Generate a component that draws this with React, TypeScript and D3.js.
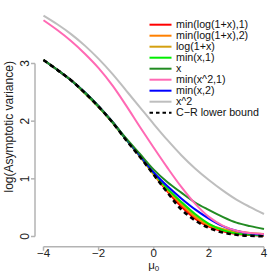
import React from "react";
import * as d3 from "d3";

// grid of mu0 values the curves are read at
const mu: number[] = [-4, -3.5, -3, -2.5, -2, -1.5, -1, -0.5, 0, 0.5, 1, 1.5, 2, 2.5, 3, 3.5, 4];

const minLog1: number[] = [3.06, 2.89, 2.71, 2.49, 2.25, 1.98, 1.68, 1.39, 1.08, 0.78, 0.52, 0.31, 0.17, 0.09, 0.045, 0.025, 0.015];
const minLog2: number[] = [3.06, 2.89, 2.71, 2.49, 2.25, 1.98, 1.68, 1.39, 1.08, 0.8, 0.56, 0.34, 0.19, 0.11, 0.07, 0.045, 0.035];
const log1x: number[] = [3.06, 2.89, 2.71, 2.49, 2.25, 1.98, 1.68, 1.39, 1.08, 0.81, 0.58, 0.36, 0.21, 0.13, 0.09, 0.06, 0.045];
const minX1: number[] = [3.06, 2.89, 2.71, 2.49, 2.25, 1.98, 1.68, 1.4, 1.1, 0.83, 0.6, 0.39, 0.22, 0.11, 0.05, 0.03, 0.02];
const xLin: number[] = [3.06, 2.89, 2.71, 2.5, 2.26, 1.99, 1.7, 1.43, 1.16, 0.94, 0.76, 0.59, 0.46, 0.34, 0.24, 0.18, 0.13];
const minX2sq1: number[] = [3.75, 3.58, 3.39, 3.17, 2.92, 2.62, 2.27, 1.9, 1.54, 1.19, 0.86, 0.57, 0.34, 0.19, 0.1, 0.06, 0.04];
const minX2: number[] = [3.06, 2.89, 2.71, 2.5, 2.26, 1.99, 1.69, 1.4, 1.11, 0.87, 0.66, 0.47, 0.31, 0.18, 0.1, 0.05, 0.03];
const xSq: number[] = [3.83, 3.68, 3.51, 3.31, 3.08, 2.82, 2.53, 2.24, 1.95, 1.67, 1.41, 1.18, 0.98, 0.8, 0.64, 0.51, 0.39];
const crBound: number[] = [3.06, 2.89, 2.71, 2.49, 2.25, 1.98, 1.67, 1.38, 1.07, 0.76, 0.47, 0.28, 0.15, 0.07, 0.03, 0.012, 0.005];

const labels: string[] = [
  "min(log(1+x),1)",
  "min(log(1+x),2)",
  "log(1+x)",
  "min(x,1)",
  "x",
  "min(x^2,1)",
  "min(x,2)",
  "x^2",
  "C\u2212R lower bound",
];
const xTicks: number[] = [-4, -2, 0, 2, 4];
const yTicks: number[] = [0, 1, 2, 3];

const series = [minLog1, minLog2, log1x, minX1, xLin, minX2sq1, minX2, xSq, crBound];
const colors = ["#ff0000", "#ff8000", "#d4a010", "#00ee00", "#228b22", "#ff69b4", "#0000ff", "#bebebe", "#000000"];
// blue goes under the dark green so the left bundle looks like the original
const drawOrder = [0, 1, 2, 3, 6, 4, 5, 7, 8];

const App = (): React.JSX.Element => {
  const width = 280;
  const height = 280;
  const x = d3.scaleLinear([-4, 4], [43.5, 264]);
  const y = d3.scaleLinear([0, 3], [236.5, 63.5]);
  const axisY = 246.7;
  const axisX = 35;
  const font = "'Liberation Sans', Arial, Helvetica, sans-serif";

  const line = (vals: number[]) =>
    d3
      .line<number>()
      .x((_d, i) => x(mu[i]))
      .y((d) => y(d))
      .curve(d3.curveCatmullRom.alpha(0.5))(vals) as string;

  return (
    <svg width={width} height={height} style={{ position: "absolute", left: 0, top: 0, background: "#fff" }}>
      {drawOrder.map((i) => (
        <path
          key={i}
          d={line(series[i])}
          fill="none"
          stroke={colors[i]}
          strokeWidth={i === 8 ? 2.6 : 2}
          strokeDasharray={i === 8 ? "4.5,3.5" : undefined}
        />
      ))}

      {/* x axis */}
      <g stroke="#b3b3b3" strokeWidth={1.5}>
        <line x1={x(-4)} x2={x(4)} y1={axisY} y2={axisY} />
        {xTicks.map((t) => (
          <line key={t} x1={x(t)} x2={x(t)} y1={axisY} y2={axisY + 4} />
        ))}
      </g>
      <g fontFamily={font} fill="#222" textAnchor="middle">
        {xTicks.map((t) => (
          <text key={t} x={x(t)} y={257} fontSize={11.5}>
            {t < 0 ? "\u2212" + Math.abs(t) : String(t)}
          </text>
        ))}
        <text x={x(0)} y={268.5} fontSize={11.5}>
          μ<tspan fontSize={8} dy={2}>0</tspan>
        </text>
      </g>

      {/* y axis */}
      <g stroke="#b3b3b3" strokeWidth={1.5}>
        <line x1={axisX} x2={axisX} y1={y(0)} y2={y(3)} />
        {yTicks.map((t) => (
          <line key={t} x1={axisX - 4} x2={axisX} y1={y(t)} y2={y(t)} />
        ))}
      </g>
      <g fontFamily={font} fontSize={12} fill="#222" textAnchor="middle">
        {yTicks.map((t) => (
          <text key={t} transform={`translate(${axisX - 6.5},${y(t)}) rotate(-90)`}>
            {t}
          </text>
        ))}
        <text transform={`translate(12.5,${(6.9 + axisY) / 2}) rotate(-90)`}>log(Asymptotic variance)</text>
      </g>

      {/* legend */}
      <g fontFamily={font} fontSize={10.7} fill="#111">
        {labels.map((l, i) => {
          const ly = 24.7 + i * 11;
          return (
            <g key={l}>
              <line
                x1={149.5}
                x2={171.5}
                y1={ly}
                y2={ly}
                stroke={colors[i]}
                strokeWidth={2}
                strokeDasharray={i === 8 ? "3.5,3" : undefined}
              />
              <text x={176} y={ly} dy="0.35em">
                {l}
              </text>
            </g>
          );
        })}
      </g>
    </svg>
  );
};

export default App;
